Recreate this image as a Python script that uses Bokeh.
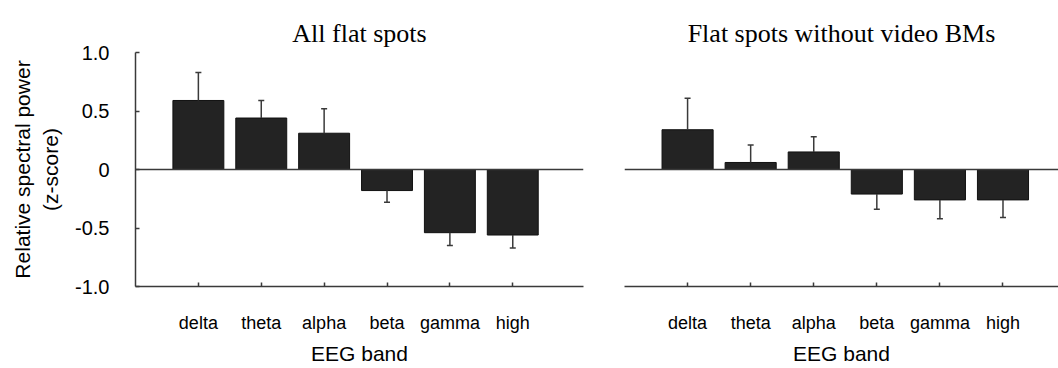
from bokeh.plotting import figure
from bokeh.layouts import row
from bokeh.models import FixedTicker, Span
from bokeh.embed import file_html
from bokeh.resources import INLINE

bands = ["delta", "theta", "alpha", "beta", "gamma", "high"]
all_mean = [0.59, 0.44, 0.31, -0.18, -0.54, -0.56]
all_err = [0.24, 0.15, 0.21, 0.10, 0.11, 0.11]
nobm_mean = [0.34, 0.06, 0.15, -0.21, -0.26, -0.26]
nobm_err = [0.27, 0.15, 0.13, 0.13, 0.16, 0.15]
yticks = [-1.0, -0.5, 0.0, 0.5, 1.0]
ytick_labels = ["-1.0", "-0.5", "0", "0.5", "1.0"]

SANS = "Liberation Sans"
SERIF = "Liberation Serif"
BAR = "#232323"
LINE = "#3a3a3a"


def panel(title, means, errs, width, border_left, border_right, x_end, show_y):
    pos = list(range(1, len(bands) + 1))
    p = figure(width=width, height=368, output_backend="svg", toolbar_location=None,
               x_range=(0, x_end), y_range=(-1.0, 1.0),
               min_border_left=border_left, min_border_right=border_right,
               min_border_top=52, min_border_bottom=82)
    p.outline_line_color = None
    p.xgrid.visible = False
    p.ygrid.visible = False
    p.background_fill_color = "white"
    p.border_fill_color = "white"

    p.title.text = title
    p.title.align = "center"
    p.title.text_font = SERIF
    p.title.text_font_size = "26px"
    p.title.text_font_style = "normal"
    p.title.text_color = "black"

    p.add_layout(Span(location=0, dimension="width", line_color=LINE, line_width=1.5))

    p.vbar(x=pos, top=means, bottom=0, width=0.81, fill_color=BAR, line_color="#111111", line_width=1)
    ends = [m + (e if m >= 0 else -e) for m, e in zip(means, errs)]
    p.segment(x0=pos, y0=means, x1=pos, y1=ends, line_color=LINE, line_width=1.5)
    p.scatter(x=pos, y=ends, marker="dash", size=6, line_color=LINE, line_width=1.5)

    xa = p.xaxis[0]
    xa.ticker = FixedTicker(ticks=pos)
    xa.major_label_overrides = {i: b for i, b in zip(pos, bands)}
    xa.major_tick_in = 4
    xa.major_tick_out = 0
    xa.minor_tick_line_color = None
    xa.axis_line_color = LINE
    xa.axis_line_width = 1.5
    xa.major_tick_line_color = LINE
    xa.major_tick_line_width = 1.5
    xa.major_label_text_font = SANS
    xa.major_label_text_font_size = "18px"
    xa.major_label_text_color = "black"
    xa.major_label_standoff = 26
    xa.axis_label = "EEG band"
    xa.axis_label_text_font = SANS
    xa.axis_label_text_font_size = "21px"
    xa.axis_label_text_font_style = "normal"
    xa.axis_label_text_color = "black"
    xa.axis_label_standoff = 6

    ya = p.yaxis[0]
    if show_y:
        ya.ticker = FixedTicker(ticks=yticks)
        ya.major_label_overrides = {t: l for t, l in zip(yticks, ytick_labels)}
        ya.major_tick_in = 4
        ya.major_tick_out = 0
        ya.minor_tick_line_color = None
        ya.axis_line_color = LINE
        ya.axis_line_width = 1.5
        ya.major_tick_line_color = LINE
        ya.major_tick_line_width = 1.5
        ya.major_label_text_font = SANS
        ya.major_label_text_font_size = "20px"
        ya.major_label_text_color = "black"
        ya.major_label_standoff = 26
        ya.axis_label = "Relative spectral power\n(z-score)"
        ya.axis_label_text_font = SANS
        ya.axis_label_text_font_size = "21px"
        ya.axis_label_text_font_style = "normal"
        ya.axis_label_text_color = "black"
        ya.axis_label_standoff = 10
    else:
        ya.visible = False
    return p


p1 = panel("All flat spots", all_mean, all_err, 600, 135, 17, 7.125, True)
p2 = panel("Flat spots without video BMs", nobm_mean, nobm_err, 458, 24, 0, 6.88, False)

layout = row(p1, p2)
open("out.html", "w").write(file_html(layout, INLINE))
